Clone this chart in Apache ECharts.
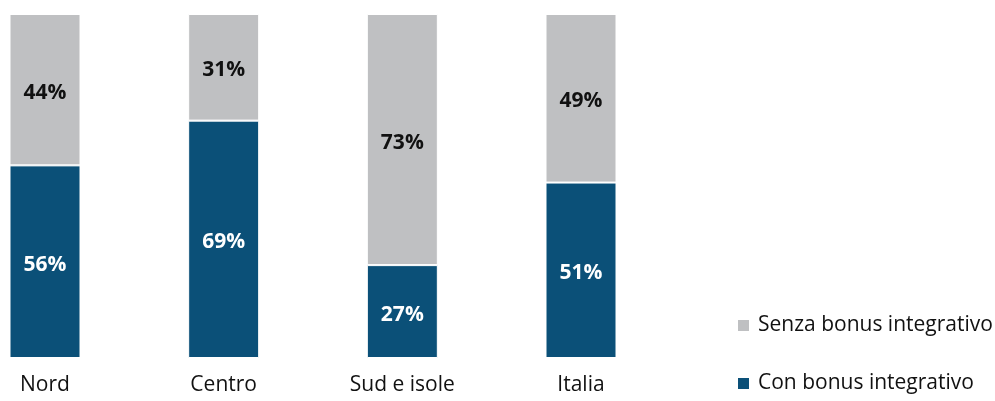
<!DOCTYPE html>
<html>
<head>
<meta charset="utf-8">
<script src="https://cdn.jsdelivr.net/npm/echarts@6/dist/echarts.min.js"></script>
<style>
  html, body { margin: 0; padding: 0; background: #ffffff; }
  #chart { width: 995px; height: 401px; }
</style>
</head>
<body>
<div id="chart"></div>
<script>
// data
var categories = ['Nord', 'Centro', 'Sud e isole', 'Italia'];
var conBonus = [56, 69, 27, 51];
var senzaBonus = [44, 31, 73, 49];

var blue = '#0b5078';
var grey = '#bfc0c2';
var fontFam = '"Open Sans", "Noto Sans", sans-serif';

var myChart = echarts.init(document.getElementById('chart'));
var option = {
    animation: false,
    grid: {
        left: 45,
        right: 414,
        top: 14,
        bottom: 43
    },
    legend: {
        data: ['Senza bonus integrativo', 'Con bonus integrativo'],
        orient: 'vertical',
        left: 731,
        top: 310,
        itemWidth: 13,
        itemHeight: 13,
        itemGap: 37,
        icon: 'rect',
        textStyle: {
            fontFamily: fontFam,
            fontSize: 21,
            color: '#111111',
            padding: [0, 0, 0, 3]
        }
    },
    xAxis: {
        type: 'category',
        data: categories,
        boundaryGap: false,
        axisLine: { show: false },
        axisTick: { show: false },
        axisLabel: {
            margin: 17,
            fontFamily: fontFam,
            fontSize: 21,
            color: '#111111'
        }
    },
    yAxis: {
        type: 'value',
        min: 0,
        max: 100,
        show: false
    },
    series: [
        {
            name: 'Con bonus integrativo',
            type: 'bar',
            stack: 'tot',
            barWidth: 71,
            clip: false,
            data: conBonus,
            itemStyle: { color: blue, borderColor: '#ffffff', borderWidth: 1 },
            label: {
                show: true,
                position: 'inside',
                offset: [0, 3],
                formatter: '{c}%',
                fontFamily: fontFam,
                fontWeight: 'bold',
                fontSize: 21,
                color: '#ffffff'
            }
        },
        {
            name: 'Senza bonus integrativo',
            type: 'bar',
            stack: 'tot',
            barWidth: 71,
            clip: false,
            data: senzaBonus,
            itemStyle: { color: grey, borderColor: '#ffffff', borderWidth: 1 },
            label: {
                show: true,
                position: 'inside',
                offset: [0, 3],
                formatter: '{c}%',
                fontFamily: fontFam,
                fontWeight: 'bold',
                fontSize: 21,
                color: '#111111'
            }
        }
    ]
};
myChart.setOption(option);
</script>
</body>
</html>
